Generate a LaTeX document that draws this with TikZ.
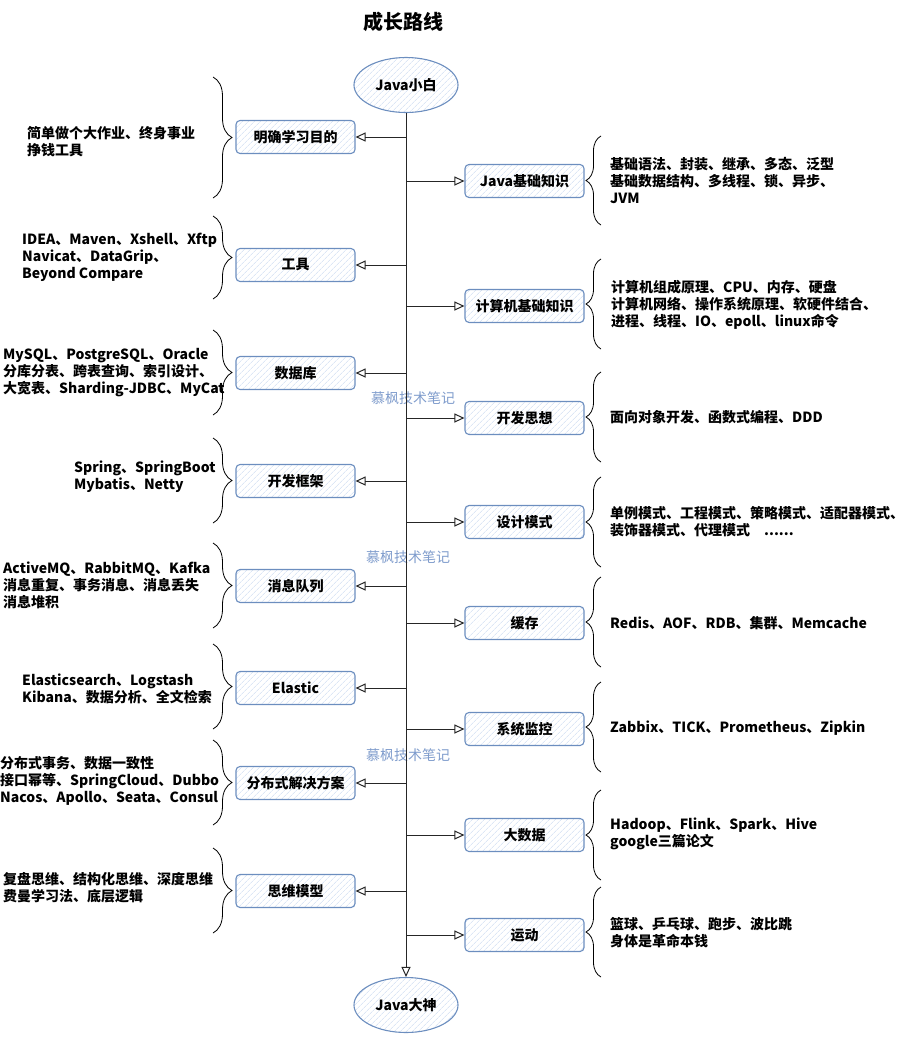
\documentclass[tikz,border=0pt]{standalone}
\usepackage{fontspec}
\setmainfont{Noto Sans CJK SC}
\usepackage{xcolor}
\usepackage{tikz}
\usetikzlibrary{shapes.geometric, arrows.meta, positioning, calc, decorations.pathreplacing, patterns.meta}
\definecolor{boxBlue}{HTML}{6C8EBF}
\definecolor{hatchBlue}{HTML}{C9D9F0}
\definecolor{markBlue}{HTML}{7F9CCC}
\tikzstyle{note}  = [anchor=west, align=left, inner sep=0pt,
                     font=\bfseries\fontsize{14}{17}\selectfont]
\tikzstyle{rel}   = [-{Triangle[open, length=10pt, width=9pt]}, line width=1pt, black!85]

\begin{document}
\begin{tikzpicture}[x=1pt, y=-1pt,
  topic/.style={draw=boxBlue, line width=1.1pt, rounded corners=4pt,
    pattern={Lines[angle=45, distance=4pt, line width=0.6pt]}, pattern color=hatchBlue,
    minimum width=119pt, minimum height=33pt, inner sep=0pt,
    font=\bfseries\fontsize{14}{17}\selectfont},
  ends/.style={ellipse, draw=boxBlue, line width=1.1pt,
    pattern={Lines[angle=45, distance=4pt, line width=0.6pt]}, pattern color=hatchBlue,
    minimum width=104pt, minimum height=55pt, inner sep=0pt,
    font=\bfseries\fontsize{14}{17}\selectfont},
  lbrace/.style={decorate, decoration={brace, amplitude=19pt}, line width=0.8pt},
  rbrace/.style={decorate, decoration={brace, amplitude=15pt}, line width=0.8pt},
  wmark/.style={text=markBlue, inner sep=0pt, font=\fontsize{14}{17}\selectfont}
]
  \useasboundingbox (0,0) rectangle (906,1050);

  % Title and the two ends
  \node[font=\bfseries\fontsize{20}{24}\selectfont] (title) at (403,22) {成长路线};
  \node[ends] (start) at (406,85) {Java小白};
  \node[ends] (finish) at (406,1005) {Java大神};

  % Left topics
  \node[topic] (goal) at (295.5,137) {明确学习目的};
  \node[topic] (tool) at (295.5,265) {工具};
  \node[topic] (db) at (295.5,373) {数据库};
  \node[topic] (frame) at (295.5,481) {开发框架};
  \node[topic] (mq) at (295.5,586) {消息队列};
  \node[topic] (es) at (295.5,688) {Elastic};
  \node[topic] (dist) at (295.5,783) {分布式解决方案};
  \node[topic] (think) at (295.5,891) {思维模型};

  % Right topics
  \node[topic] (jbase) at (524.5,181) {Java基础知识};
  \node[topic] (cs) at (524.5,306) {计算机基础知识};
  \node[topic] (idea) at (524.5,418) {开发思想};
  \node[topic] (pattern) at (524.5,522) {设计模式};
  \node[topic] (cache) at (524.5,623) {缓存};
  \node[topic] (monitor) at (524.5,729) {系统监控};
  \node[topic] (bigdata) at (524.5,835) {大数据};
  \node[topic] (sport) at (524.5,935) {运动};

  % Left notes
  \node[note] (goalnote) at (27,141.5) {简单做个大作业、终身事业\\挣钱工具};
  \node[note] (toolnote) at (22,257) {IDEA、Maven、Xshell、Xftp\\Navicat、DataGrip、\\Beyond Compare};
  \node[note] (dbnote) at (3,373) {MySQL、PostgreSQL、Oracle\\分库分表、跨表查询、索引设计、\\大宽表、Sharding-JDBC、MyCat};
  \node[note] (framenote) at (74,476.5) {Spring、SpringBoot\\Mybatis、Netty};
  \node[note] (mqnote) at (3,585) {ActiveMQ、RabbitMQ、Kafka\\消息重复、事务消息、消息丢失\\消息堆积};
  \node[note] (esnote) at (22,688.5) {Elasticsearch、Logstash\\Kibana、数据分析、全文检索};
  \node[note] (distnote) at (0,781) {分布式事务、数据一致性\\接口幂等、SpringCloud、Dubbo\\Nacos、Apollo、Seata、Consul};
  \node[note] (thinknote) at (3,887.5) {复盘思维、结构化思维、深度思维\\费曼学习法、底层逻辑};

  % Right notes
  \node[note] (jbasenote) at (610,181) {基础语法、封装、继承、多态、泛型\\基础数据结构、多线程、锁、异步、\\JVM};
  \node[note] (csnote) at (611,305) {计算机组成原理、CPU、内存、硬盘\\计算机网络、操作系统原理、软硬件结合、\\进程、线程、IO、epoll、linux命令};
  \node[note] (ideanote) at (610,417) {面向对象开发、函数式编程、DDD};
  \node[note] (patternnote) at (610,521.5) {单例模式、工程模式、策略模式、适配器模式、\\装饰器模式、代理模式\quad ......};
  \node[note] (cachenote) at (610,623) {Redis、AOF、RDB、集群、Memcache};
  \node[note] (monitornote) at (610,728) {Zabbix、TICK、Prometheus、Zipkin};
  \node[note] (bigdatanote) at (610,833.5) {Hadoop、Flink、Spark、Hive\\google三篇论文};
  \node[note] (sportnote) at (610,932.5) {篮球、乒乓球、跑步、波比跳\\身体是革命本钱};

  % Watermarks
  \node[wmark] (wm1) at (413,398) {慕枫技术笔记};
  \node[wmark] (wm2) at (408,557) {慕枫技术笔记};
  \node[wmark] (wm3) at (408,755) {慕枫技术笔记};

  % Braces
  \draw[lbrace] (213,77) -- (213,198);
  \draw[lbrace] (213,216) -- (213,299);
  \draw[lbrace] (213,330) -- (213,415);
  \draw[lbrace] (213,438) -- (213,523);
  \draw[lbrace] (213,543) -- (213,628);
  \draw[lbrace] (213,644) -- (213,729);
  \draw[lbrace] (213,740) -- (213,825);
  \draw[lbrace] (213,848) -- (213,933);

  \draw[rbrace] (601,225) -- (601,136);
  \draw[rbrace] (601,349) -- (601,259);
  \draw[rbrace] (601,462) -- (601,372);
  \draw[rbrace] (601,567) -- (601,477);
  \draw[rbrace] (601,667) -- (601,577);
  \draw[rbrace] (601,772) -- (601,682);
  \draw[rbrace] (601,880) -- (601,790);
  \draw[rbrace] (601,977) -- (601,887);

  % Spine and branches
  \draw[rel] (start) -- (finish);

  \draw[rel] (start.south |- goal.east) -- (goal);
  \draw[rel] (start.south |- tool.east) -- (tool);
  \draw[rel] (start.south |- db.east) -- (db);
  \draw[rel] (start.south |- frame.east) -- (frame);
  \draw[rel] (start.south |- mq.east) -- (mq);
  \draw[rel] (start.south |- es.east) -- (es);
  \draw[rel] (start.south |- dist.east) -- (dist);
  \draw[rel] (start.south |- think.east) -- (think);

  \draw[rel] (start.south |- jbase.west) -- (jbase);
  \draw[rel] (start.south |- cs.west) -- (cs);
  \draw[rel] (start.south |- idea.west) -- (idea);
  \draw[rel] (start.south |- pattern.west) -- (pattern);
  \draw[rel] (start.south |- cache.west) -- (cache);
  \draw[rel] (start.south |- monitor.west) -- (monitor);
  \draw[rel] (start.south |- bigdata.west) -- (bigdata);
  \draw[rel] (start.south |- sport.west) -- (sport);

\end{tikzpicture}
\end{document}
